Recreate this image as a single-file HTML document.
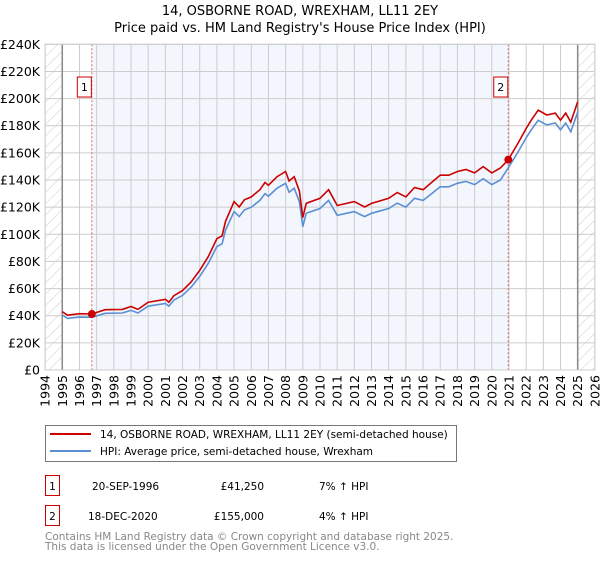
<!DOCTYPE html>
<html><head><meta charset="utf-8"><style>
body{margin:0;background:#fff;font-family:"DejaVu Sans","Liberation Sans",sans-serif;}
svg text{font-family:"DejaVu Sans","Liberation Sans",sans-serif;}
</style></head><body>
<svg id="chart" width="600" height="560" xmlns="http://www.w3.org/2000/svg">
<defs><pattern id="hatch" patternUnits="userSpaceOnUse" width="8" height="8" patternTransform="rotate(45)"><line x1="0" y1="0" x2="0" y2="8" stroke="#ccc" stroke-width="1"/></pattern></defs>
<text x="300" y="15" text-anchor="middle" font-size="13">14, OSBORNE ROAD, WREXHAM, LL11 2EY</text>
<text x="300" y="32" text-anchor="middle" font-size="13">Price paid vs. HM Land Registry's House Price Index (HPI)</text>
<g id="plot"></g>
<g>
<rect x="45.5" y="425.5" width="411" height="36" fill="#fff" stroke="#777"/>
<line x1="50" y1="434" x2="91" y2="434" stroke="#cc0000" stroke-width="2"/>
<text x="100" y="438" font-size="10.5">14, OSBORNE ROAD, WREXHAM, LL11 2EY (semi-detached house)</text>
<line x1="50" y1="451" x2="91" y2="451" stroke="#5b8fd4" stroke-width="2"/>
<text x="100" y="455" font-size="10.5">HPI: Average price, semi-detached house, Wrexham</text>
</g>
<g font-size="10.5">
<rect x="45.5" y="475.5" width="14" height="20" fill="#fff" stroke="#cc0000"/>
<text x="52.5" y="490" text-anchor="middle">1</text>
<text x="92" y="490">20-SEP-1996</text>
<text x="264" y="490" text-anchor="end">£41,250</text>
<text x="319" y="490">7% ↑ HPI</text>
<rect x="45.5" y="505.5" width="14" height="20" fill="#fff" stroke="#cc0000"/>
<text x="52.5" y="520" text-anchor="middle">2</text>
<text x="88" y="520">18-DEC-2020</text>
<text x="264" y="520" text-anchor="end">£155,000</text>
<text x="319" y="520">4% ↑ HPI</text>
</g>
<text x="45" y="540" font-size="10.5" fill="#888">Contains HM Land Registry data © Crown copyright and database right 2025.</text>
<text x="45" y="550" font-size="10.5" fill="#888">This data is licensed under the Open Government Licence v3.0.</text>
</svg>
<script>
const hpiYears=[1995.0,1995.3,1996.0,1996.72,1997.5,1998.5,1999.0,1999.4,2000.0,2001.0,2001.2,2001.5,2002.0,2002.5,2003.0,2003.5,2004.0,2004.3,2004.5,2005.0,2005.3,2005.6,2006.0,2006.5,2006.8,2007.0,2007.5,2008.0,2008.2,2008.5,2008.8,2009.0,2009.2,2010.0,2010.5,2011.0,2012.0,2012.6,2013.0,2014.0,2014.5,2015.0,2015.5,2016.0,2016.5,2017.0,2017.5,2018.0,2018.5,2019.0,2019.5,2020.0,2020.5,2020.96,2021.5,2022.0,2022.3,2022.7,2023.2,2023.7,2024.0,2024.3,2024.6,2025.0];
const hpiValues=[40.5,38,39,38.8,41.8,42,44,42,47,49,47,51.5,55,61,69,78.6,91,93,103,116.7,113,118,120,125,130,128,134,137.6,131,134,124,105.6,115.5,119,125,114,116.7,113,115.5,119,123,120,126.5,125,130,135,135,137.6,139,136.6,141,136.6,140,149,160,171,177,184,180.6,182,177,182,175.6,190];
const saleYears=[1996.72,2020.96];
const salePrices=[41.25,155];
const yTicks=[0,20,40,60,80,100,120,140,160,180,200,220,240];
const yTickLabels=["£0","£20K","£40K","£60K","£80K","£100K","£120K","£140K","£160K","£180K","£200K","£220K","£240K"];
const xTicks=[1994,1995,1996,1997,1998,1999,2000,2001,2002,2003,2004,2005,2006,2007,2008,2009,2010,2011,2012,2013,2014,2015,2016,2017,2018,2019,2020,2021,2022,2023,2024,2025,2026];
const NS="http://www.w3.org/2000/svg";
const X=y=>45.1+(y-1994)*17.18;
const Y=v=>370-v*(325.7/240);
const g=document.getElementById('plot');
function mk(t,a,p){const e=document.createElementNS(NS,t);for(const k in a)e.setAttribute(k,a[k]);(p||g).appendChild(e);return e;}
let h1=mk('rect',{x:X(1994),y:Y(240),width:X(1995)-X(1994),height:Y(0)-Y(240),fill:'url(#hatch)'});


let h2=mk('rect',{x:X(2025),y:Y(240),width:X(2026)-X(2025),height:Y(0)-Y(240),fill:'url(#hatch)'});


let sh=mk('rect',{x:X(saleYears[0]),y:Y(240),width:X(saleYears[1])-X(saleYears[0]),height:Y(0)-Y(240),fill:'#f3f6fd'});


yTicks.forEach((v,i)=>{
 let l=mk('line',{x1:X(1994),x2:X(2026),y1:Y(v),y2:Y(v),stroke:'#ccc'});
 
 
 let t=mk('text',{x:40,y:Y(v)+4.5,'text-anchor':'end','font-size':'12.5'});t.textContent=yTickLabels[i];
 
 
});
xTicks.forEach(yr=>{
 let l=mk('line',{x1:X(yr),x2:X(yr),y1:Y(240),y2:Y(0),stroke:'#ccc'});
 
 
 let t=mk('text',{x:0,y:0,'text-anchor':'end','font-size':'12.5',transform:`translate(${X(yr)+4.5},375) rotate(-90)`});t.textContent=yr;
 
 
});
let b1=mk('line',{x1:X(1995),x2:X(1995),y1:Y(240),y2:Y(0),stroke:'#888','stroke-width':1.5});


let b2=mk('line',{x1:X(2025),x2:X(2025),y1:Y(240),y2:Y(0),stroke:'#888','stroke-width':1.5});


saleYears.forEach((s,i)=>{
 let l=mk('line',{x1:X(s),x2:X(s),y1:Y(240),y2:Y(0),stroke:'#e06060','stroke-dasharray':'2,2'});
 
 
 let r=mk('rect',{x:X(s)-14.5,y:Y(210)-8,width:14,height:20,fill:'#fff',stroke:'#cc0000'});
 
 
 let t=mk('text',{x:X(s)-7.5,y:Y(210)+6,'text-anchor':'middle','font-size':'11'});t.textContent=String(i+1);
 
 
});
function hpiAt(y){for(let i=0;i<hpiYears.length-1;i++){if(y>=hpiYears[i]&&y<=hpiYears[i+1]){const f=(y-hpiYears[i])/(hpiYears[i+1]-hpiYears[i]);return hpiValues[i]+f*(hpiValues[i+1]-hpiValues[i]);}}return hpiValues[hpiValues.length-1];}
const r1=salePrices[0]/hpiAt(saleYears[0]), r2=salePrices[1]/hpiAt(saleYears[1]);
let bp=hpiYears.map((y,i)=>X(y).toFixed(1)+','+Y(hpiValues[i]).toFixed(1)).join(' ');
let rp=hpiYears.map((y,i)=>X(y).toFixed(1)+','+Y(hpiValues[i]*(y<saleYears[1]?r1:r2)).toFixed(1)).join(' ');
let bl=mk('polyline',{points:bp,fill:'none',stroke:'#5b8fd4','stroke-width':1.6});


let rl=mk('polyline',{points:rp,fill:'none',stroke:'#cc0000','stroke-width':1.6});


saleYears.forEach((s,i)=>{
 let c=mk('circle',{cx:X(s),cy:Y(salePrices[i]),r:4,fill:'#cc0000'});
 
 
});
let fr=mk('rect',{x:X(1994),y:Y(240),width:X(2026)-X(1994),height:Y(0)-Y(240),fill:'none',stroke:'#ccc'});


</script>
</body></html>
